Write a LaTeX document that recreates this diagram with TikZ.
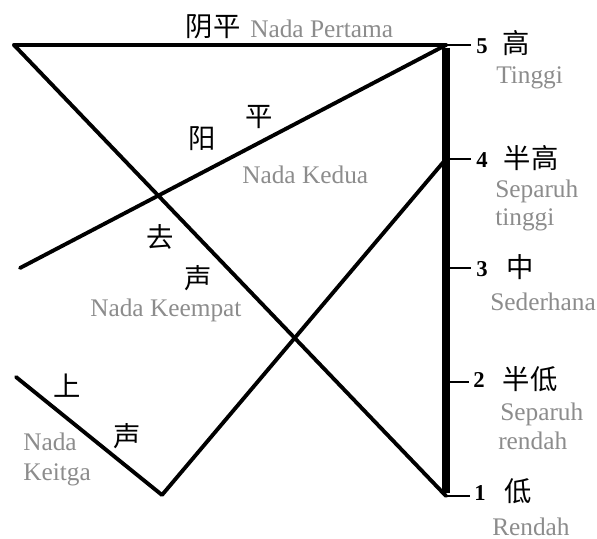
\documentclass[tikz,border=0pt]{standalone}
\usepackage{fontspec}
\setmainfont{Liberation Serif}
\newfontfamily\cjk{Noto Sans CJK SC}
\definecolor{lightgray}{HTML}{8C8C8C}
\tikzset{
  zh/.style={font=\cjk\fontsize{20.5}{22}\selectfont, text=black, inner sep=0pt},
  num/.style={font=\bfseries\fontsize{17}{19}\selectfont, text=black, inner sep=0pt},
  idtext/.style={font=\fontsize{19}{22}\selectfont, text=lightgray, inner sep=0pt, anchor=base west},
  tone/.style={line width=2.9pt, line cap=round, line join=round},
  tick/.style={line width=0.9pt},
  scalebar/.style={line width=5.5pt}
}
\begin{document}
\begin{tikzpicture}[x=0.75pt, y=-0.75pt]
\useasboundingbox (0,0) rectangle (597,539);
% scale points
\coordinate (l5) at (446,45);
\coordinate (l4) at (446,159);
\coordinate (l3) at (446,268);
\coordinate (l2) at (446,382);
\coordinate (l1) at (446,496);
\coordinate (t5) at (471,45);
\coordinate (t4) at (471,159);
\coordinate (t3) at (471,268);
\coordinate (t2) at (469,382);
\coordinate (t1) at (470,496);
% tone start points
\coordinate (a0) at (14,45);
\coordinate (b0) at (20,268);
\coordinate (c0) at (16,377);
\coordinate (c1) at (162,495);
% scale bar
\draw[scalebar] ([yshift=-2]l5) -- ([yshift=2]l1);
\foreach \i in {1,...,5} \draw[tick] (l\i) -- (t\i);
% tones
\draw[tone] (a0) -- (l5);
\draw[tone] (a0) -- (l1);
\draw[tone] (b0) -- (l5);
\draw[tone] (c0) -- (c1) -- (l4);
% scale labels
\node[num] (n5) at (482,46) {5};
\node[num] (n4) at (482,160) {4};
\node[num] (n3) at (482,269) {3};
\node[num] (n2) at (479,380) {2};
\node[num] (n1) at (480,493) {1};
\node[zh] (z5) at (516,43) {高};
\node[zh] (z4) at (531,158) {半高};
\node[zh] (z3) at (520,267) {中};
\node[zh] (z2) at (530,379) {半低};
\node[zh] (z1) at (518,491) {低};
\node[idtext] (e5) at (496,84) {Tinggi};
\node[idtext] (e4a) at (495,197) {Separuh};
\node[idtext] (e4b) at (495,225) {tinggi};
\node[idtext] (e3) at (490,310) {Sederhana};
\node[idtext] (e2a) at (500,420) {Separuh};
\node[idtext] (e2b) at (498,449) {rendah};
\node[idtext] (e1) at (492,535) {Rendah};
% tone labels
\node[zh] (ya) at (213,27) {阴平};
\node[idtext] (yb) at (250,37) {Nada Pertama};
\node[zh] (yang) at (202,139) {阳};
\node[zh] (ping) at (259,117) {平};
\node[idtext] (kedua) at (242,183) {Nada Kedua};
\node[zh] (qu) at (160,237) {去};
\node[zh] (sh1) at (198,278) {声};
\node[idtext] (keempat) at (90,316) {Nada Keempat};
\node[zh] (shang) at (67,386) {上};
\node[zh] (sh2) at (127,436) {声};
\node[idtext] (ketiga1) at (23,450) {Nada};
\node[idtext] (ketiga2) at (23,480) {Keitga};
\end{tikzpicture}
\end{document}
